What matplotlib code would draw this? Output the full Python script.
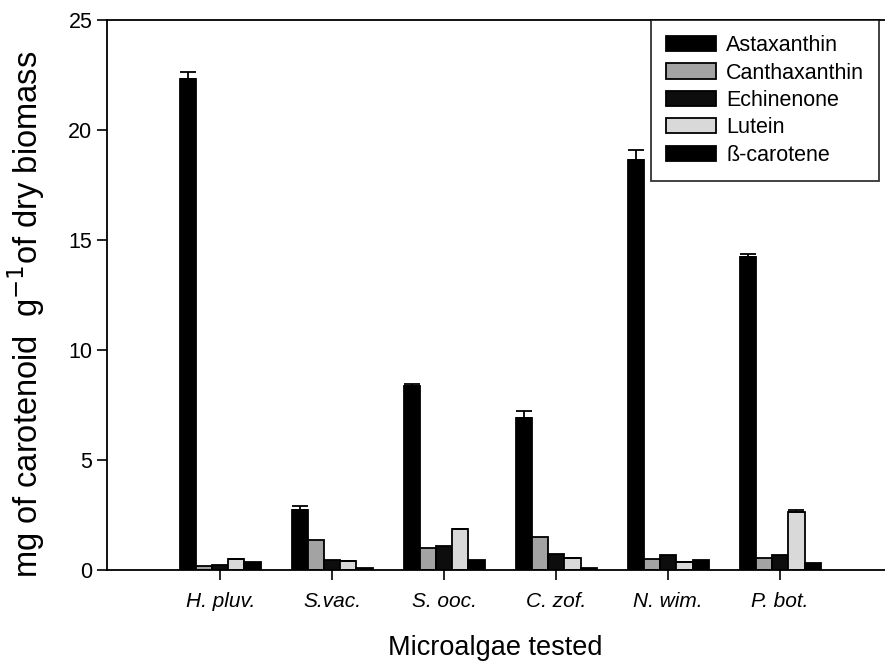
import numpy as np
import matplotlib
matplotlib.use("Agg")
import matplotlib.pyplot as plt

plt.rcParams["font.family"] = ["Liberation Sans", "DejaVu Sans"]

species = ["H. pluv.", "S.vac.", "S. ooc.", "C. zof.", "N. wim.", "P. bot."]
pigments = ["Astaxanthin", "Canthaxanthin", "Echinenone", "Lutein", "ß-carotene"]

astaxanthin = [22.3, 2.75, 8.35, 6.9, 18.65, 14.25]
canthaxanthin = [0.17, 1.38, 1.0, 1.52, 0.5, 0.55]
echinenone = [0.25, 0.45, 1.08, 0.72, 0.68, 0.7]
lutein = [0.5, 0.42, 1.85, 0.55, 0.38, 2.65]
bcarotene = [0.38, 0.08, 0.45, 0.1, 0.45, 0.3]

astaxanthin_err = [0.35, 0.15, 0.12, 0.35, 0.45, 0.1]
lutein_err = [0, 0, 0, 0, 0, 0.1]

values = [astaxanthin, canthaxanthin, echinenone, lutein, bcarotene]
errors = [astaxanthin_err, None, None, lutein_err, None]
colors = ["#000000", "#a3a3a3", "#0d0d0d", "#d9d9d9", "#000000"]

fig = plt.figure(figsize=(8.85, 6.66), dpi=100)
# axes run a little past the right edge, as in the original scan
ax = fig.add_axes([107 / 885, 96 / 666, 793 / 885, 550 / 666])

x = np.arange(len(species))
width = 0.145
for i, (vals, err, col, name) in enumerate(zip(values, errors, colors, pigments)):
    pos = x + (i - 2) * width
    yerr = None
    if err is not None:
        yerr = [np.zeros(len(err)), err]
    ax.bar(pos, vals, width, color=col, edgecolor="black", linewidth=1.3,
           label=name, yerr=yerr, capsize=6,
           error_kw=dict(ecolor="black", elinewidth=1.3, capthick=1.3))

ax.set_xlim(-1.01, 6.07)
ax.set_ylim(0, 25)
ax.set_yticks([0, 5, 10, 15, 20, 25])
ax.set_xticks(x)
ax.set_xticklabels(species, fontstyle="italic", fontsize=15)
ax.tick_params(axis="y", labelsize=15.5, direction="out", length=7, width=1.2)
ax.tick_params(axis="x", direction="out", length=7, width=1.2, pad=9)
for s in ax.spines.values():
    s.set_linewidth(1.3)

ax.set_ylabel("mg of carotenoid  g$^{-1}$of dry biomass", fontsize=23.5)
ax.yaxis.set_label_coords(-0.076, 0.465)
ax.set_xlabel("Microalgae tested", fontsize=19.5, labelpad=17)
ax.xaxis.label.set_x(0.489)

leg = ax.legend(loc="upper left", bbox_to_anchor=(544 / 793, 1.0), borderaxespad=0,
                fancybox=False, edgecolor="black", fontsize=15.5,
                handlelength=2.3, handleheight=0.7, labelspacing=0.3,
                borderpad=0.7, handletextpad=0.5)
leg.get_frame().set_linewidth(1.3)

fig.savefig("out.png", dpi=100)
